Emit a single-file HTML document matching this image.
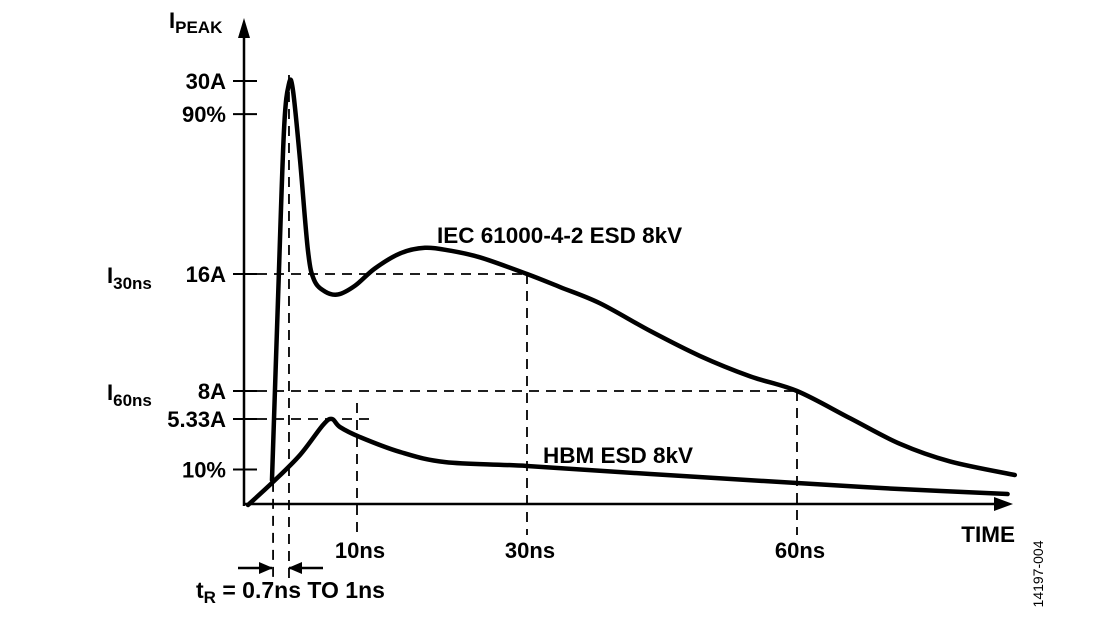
<!DOCTYPE html>
<html><head><meta charset="utf-8"><style>
html,body{margin:0;padding:0;background:#fff;}
svg{display:block;font-family:"Liberation Sans",Arial,sans-serif;font-weight:bold;}
</style></head><body>
<svg id="chart" width="1120" height="617" viewBox="0 0 1120 617">
<defs>
<marker id="ah" markerWidth="14" markerHeight="12" refX="13" refY="6" orient="auto" markerUnits="userSpaceOnUse">
<path d="M0,0 L14,6 L0,12 z" fill="#000"/></marker>
</defs>
<g id="guides" stroke="#000" stroke-width="1.8" stroke-dasharray="10,7" fill="none"></g>
<g id="axes">
<line x1="244" y1="506" x2="244" y2="24" stroke="#000" stroke-width="2.5"/>
<path d="M238,38 L244,18 L250,38 z" fill="#000"/>
<line x1="244" y1="504" x2="1000" y2="504" stroke="#000" stroke-width="2.5"/>
<path d="M994,497 L1013,504 L994,511 z" fill="#000"/>
</g>
<g id="yticks"></g>
<g id="xlabels"></g>
<path id="iec" fill="none" stroke="#000" stroke-width="4.5" stroke-linejoin="round" stroke-linecap="round"/>
<path id="hbm" fill="none" stroke="#000" stroke-width="4.5" stroke-linejoin="round" stroke-linecap="round"/>
<text x="169" y="28" font-size="22">I<tspan font-size="17" dy="5">PEAK</tspan></text>
<text x="107" y="283" font-size="22">I<tspan font-size="17" dy="6">30ns</tspan></text>
<text x="107" y="400" font-size="22">I<tspan font-size="17" dy="6">60ns</tspan></text>
<text x="437" y="243" font-size="22.5">IEC 61000-4-2 ESD 8kV</text>
<text x="543" y="463" font-size="22.5">HBM ESD 8kV</text>
<text x="1015" y="542" font-size="22.5" text-anchor="end">TIME</text>
<text x="196" y="598" font-size="23">t<tspan font-size="17" dy="5">R</tspan><tspan dy="-5"> = 0.7ns TO 1ns</tspan></text>
<line x1="238" y1="568" x2="272" y2="568" stroke="#000" stroke-width="2.5" marker-end="url(#ah)"/>
<line x1="323" y1="568" x2="289" y2="568" stroke="#000" stroke-width="2.5" marker-end="url(#ah)"/>
<text transform="translate(1043,574) rotate(-90)" font-size="14" font-weight="normal" text-anchor="middle">14197-004</text>
</svg>
<script>
const iecTime=[2.2,2.75,3.3,3.76,4.13,4.77,5.5,6.06,7.06,8.26,9.82,12.1,15.1,18.0,20.9,24.5,30,33.7,38.1,43.7,49.2,54.8,60,65.9,71.4,77,84.2];
const iecAmps=[1.55,14.2,26.4,29.8,29.3,24.3,17.7,15.6,14.8,14.6,15.2,16.4,17.5,17.9,17.7,17.2,16,15.1,14.0,12.1,10.4,9.0,8,5.4,3.8,2.7,1.86];
const hbmTime=[0,2.3,4.77,6.88,7.7,8.44,10.35,15.1,20.4,30,43.7,60,71.4,83.4];
const hbmAmps=[0,1.43,3.1,4.96,5.33,4.83,4.21,3.28,2.66,2.42,1.92,1.36,0.99,0.68];
const yTickLabels=["30A","90%","16A","8A","5.33A","10%"];
const yTickValues=[30,27.6,16,8,5.33,2.2];
const xTickLabels=["10ns","30ns","60ns"];
const xTickValues=[10,30,60];
const riseStart=2.3, riseEnd=3.76;

function pw(dom,rng){return v=>{for(let i=0;i<dom.length-1;i++){if(v<=dom[i+1]||i===dom.length-2){const t=(v-dom[i])/(dom[i+1]-dom[i]);return rng[i]+t*(rng[i+1]-rng[i]);}}};}
const X=pw([0,10,30,60],[248,357,527,797]);
const Y=pw([0,5.33,8,16,30],[505,419,391,274,81]);
const NS="http://www.w3.org/2000/svg";
function mk(tag,attrs,parent){const e=document.createElementNS(NS,tag);for(const k in attrs)e.setAttribute(k,attrs[k]);parent.appendChild(e);return e;}

function smooth(px){let d=`M${px[0][0]},${px[0][1]}`;for(let i=0;i<px.length-1;i++){const p0=px[Math.max(0,i-1)],p1=px[i],p2=px[i+1],p3=px[Math.min(px.length-1,i+2)];
const c1=[p1[0]+(p2[0]-p0[0])/6,p1[1]+(p2[1]-p0[1])/6],c2=[p2[0]-(p3[0]-p1[0])/6,p2[1]-(p3[1]-p1[1])/6];
d+=` C${c1[0]},${c1[1]} ${c2[0]},${c2[1]} ${p2[0]},${p2[1]}`;}return d;}
const iecPx=iecTime.map((t,i)=>[X(t),Y(iecAmps[i])]);
document.getElementById('iec').setAttribute('d',smooth(iecPx));
const hbmPx=hbmTime.map((t,i)=>[X(t),Y(hbmAmps[i])]);
document.getElementById('hbm').setAttribute('d',smooth(hbmPx));

const yt=document.getElementById('yticks');
yTickLabels.forEach((lab,i)=>{const y=Y(yTickValues[i]);
const l=mk('line',{x1:233,y1:y,x2:257,y2:y,stroke:'#000','stroke-width':2},yt);


const t=mk('text',{x:226,y:y+8,'font-size':22,'text-anchor':'end'},yt);t.textContent=lab;

});

const g=document.getElementById('guides');
function dash(x1,y1,x2,y2){const l=mk('line',{x1,y1,x2,y2},g);

}
dash(257,Y(16),X(30),Y(16));
dash(257,Y(8),X(60),Y(8));
dash(257,Y(5.33),X(12),Y(5.33));
xTickValues.forEach((v,i)=>{const top=i===0?Y(5.33)-16:(i===1?Y(16):Y(8));dash(X(v),top,X(v),535);});
dash(X(riseStart),Y(1.43),X(riseStart),578);
dash(X(riseEnd),75,X(riseEnd),578);

const xl=document.getElementById('xlabels');
xTickLabels.forEach((lab,i)=>{const t=mk('text',{x:X(xTickValues[i])+3,y:558,'font-size':22,'text-anchor':'middle'},xl);t.textContent=lab;

});
</script>
</body></html>
